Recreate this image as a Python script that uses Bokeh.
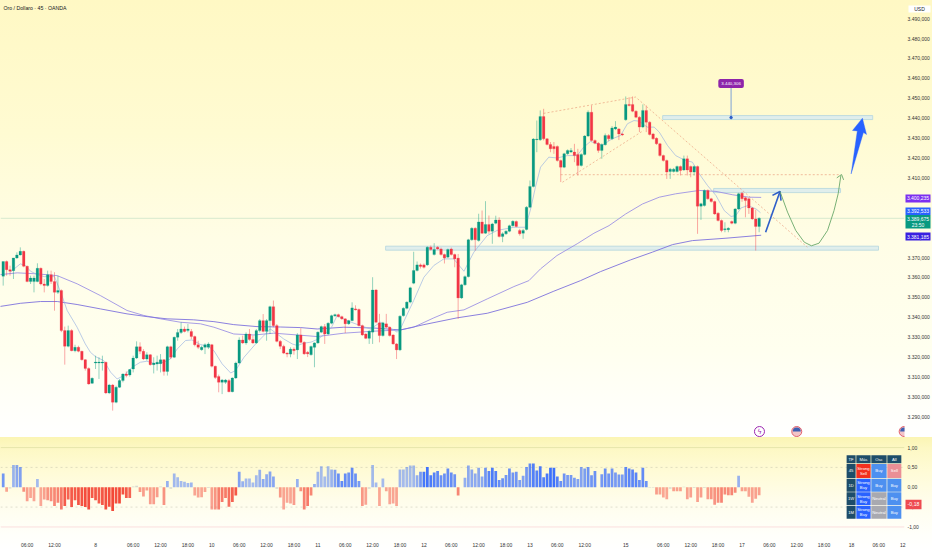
from bokeh.plotting import figure
from bokeh.layouts import column
from bokeh.models import Range1d, FixedTicker, Label, ColumnDataSource
from bokeh.core.properties import value
from bokeh.embed import file_html
from bokeh.resources import INLINE
import numpy as np

opens = [3360.6,3368.0,3363.9,3363.4,3369.8,3371.3,3373.1,3365.6,3357.9,3357.9,3357.9,3364.6,3356.7,3355.9,3361.4,3357.9,3352.5,3353.4,3333.3,3325.4,
3333.3,3323.2,3324.9,3322.9,3318.7,3314.3,3306.8,3317.0,3317.0,3317.0,3317.4,3302.0,3306.0,3297.3,3304.8,3308.2,3311.5,3311.0,3314.0,3319.5,
3325.2,3322.9,3319.0,3321.2,3316.2,3316.5,3316.7,3318.7,3312.8,3325.2,3319.9,3329.9,3332.4,3334.1,3333.3,3332.9,3330.3,3326.2,3323.7,3324.9,
3324.9,3326.2,3315.4,3310.3,3307.3,3307.3,3308.2,3302.6,3309.5,3317.0,3328.6,3327.1,3331.6,3328.8,3327.1,3333.3,3338.3,3332.9,3338.3,3345.3,
3335.8,3327.9,3325.4,3322.0,3321.5,3324.0,3323.6,3331.1,3327.4,3322.4,3321.2,3324.9,3327.1,3332.5,3335.3,3331.6,3337.0,3340.7,3341.3,3340.3,
3339.2,3336.7,3338.3,3344.2,3343.9,3335.8,3331.6,3329.4,3332.5,3353.7,3337.2,3330.8,3336.7,3335.0,3331.1,3326.6,3323.6,3340.8,3344.5,3347.6,
3357.1,3363.5,3366.3,3366.3,3366.3,3375.2,3371.5,3375.2,3374.3,3371.5,3370.2,3374.3,3371.5,3369.7,3349.7,3356.3,3360.4,3378.9,3384.7,3378.5,
3387.9,3382.2,3386.6,3383.2,3387.2,3388.9,3380.5,3381.9,3383.2,3386.0,3388.1,3383.6,3382.2,3384.1,3395.3,3405.7,3429.2,3429.1,3440.8,3429.6,
3426.8,3425.8,3425.8,3418.7,3415.4,3422.1,3423.0,3423.0,3421.8,3416.2,3421.8,3431.0,3443.0,3428.8,3427.4,3423.8,3426.7,3431.3,3429.6,3434.6,
3434.6,3432.1,3439.2,3446.9,3446.9,3443.5,3440.5,3435.5,3443.9,3438.0,3432.1,3429.9,3427.1,3421.2,3418.7,3413.2,3413.2,3413.2,3415.7,3414.0,
3419.6,3415.7,3412.9,3415.7,3395.8,3396.1,3403.7,3399.5,3398.1,3392.3,3388.6,3384.0,3384.0,3388.1,3387.2,3394.4,3402.3,3400.0,3399.5,3394.9,
3389.4,3385.6]
highs = [3368.0,3368.5,3365.9,3369.8,3372.6,3375.1,3373.5,3366.0,3360.9,3360.9,3367.1,3365.0,3359.2,3363.4,3363.4,3362.6,3360.9,3354.0,3335.3,3335.8,
3334.0,3326.2,3325.7,3323.2,3319.0,3314.8,3309.8,3320.7,3319.9,3320.7,3317.7,3306.5,3306.5,3305.6,3309.0,3311.8,3312.8,3314.0,3320.7,3327.9,
3327.4,3324.0,3322.4,3321.5,3319.9,3320.7,3321.5,3319.0,3325.7,3325.7,3330.3,3334.1,3337.5,3335.3,3336.6,3334.1,3330.8,3328.2,3325.7,3326.9,
3327.4,3326.6,3315.7,3311.2,3309.0,3309.0,3309.0,3309.8,3317.7,3329.9,3330.8,3332.4,3334.1,3330.8,3334.1,3339.1,3341.6,3339.1,3345.8,3348.4,
3336.6,3328.6,3326.2,3322.4,3324.9,3324.9,3332.0,3334.5,3327.9,3323.0,3325.8,3327.4,3332.9,3335.8,3336.6,3337.5,3341.3,3341.8,3341.8,3340.8,
3339.6,3338.7,3347.5,3346.0,3344.4,3336.3,3332.0,3333.5,3360.1,3354.2,3341.7,3337.7,3341.7,3335.4,3331.5,3327.0,3341.0,3345.0,3348.0,3355.3,
3372.9,3368.0,3367.0,3367.0,3375.6,3376.0,3377.2,3375.7,3375.0,3372.0,3374.5,3375.0,3372.0,3371.8,3356.8,3361.0,3379.4,3385.2,3385.2,3392.0,
3393.6,3398.3,3391.1,3387.4,3391.0,3390.2,3382.7,3383.7,3386.5,3388.7,3388.6,3384.4,3384.4,3395.8,3408.7,3430.0,3438.8,3443.9,3444.7,3430.0,
3428.0,3428.0,3426.3,3419.2,3422.6,3424.3,3425.0,3427.1,3424.6,3422.3,3431.5,3443.9,3446.4,3429.3,3428.0,3427.3,3432.3,3432.0,3436.0,3438.5,
3435.0,3432.6,3450.9,3450.5,3450.9,3444.0,3441.0,3446.9,3446.4,3438.5,3432.6,3430.4,3427.6,3421.7,3419.2,3415.0,3415.0,3416.2,3416.2,3421.2,
3421.2,3416.2,3416.2,3416.2,3397.5,3404.2,3404.2,3400.0,3398.6,3392.8,3389.1,3387.7,3385.2,3388.6,3394.9,3402.5,3403.0,3400.5,3400.0,3395.4,
3394.0,3390.2]
lows = [3355.9,3360.9,3360.9,3359.2,3369.3,3371.0,3365.1,3357.6,3356.7,3352.5,3357.6,3356.0,3352.5,3355.4,3356.7,3343.3,3351.7,3332.5,3316.2,3324.9,
3322.9,3322.4,3322.4,3318.2,3313.2,3306.1,3306.5,3314.0,3309.0,3313.2,3301.4,3301.4,3293.1,3296.8,3304.5,3307.3,3309.8,3310.2,3312.3,3319.0,
3321.5,3318.5,3318.2,3315.7,3311.8,3313.2,3312.3,3310.7,3310.7,3319.0,3319.5,3328.2,3331.6,3332.4,3332.4,3329.0,3325.4,3324.0,3323.2,3321.5,
3324.0,3314.8,3309.0,3302.3,3301.4,3306.5,3302.3,3302.3,3309.0,3316.5,3326.6,3326.2,3328.2,3326.6,3326.6,3332.4,3332.4,3328.2,3331.6,3335.0,
3327.4,3324.0,3321.5,3319.9,3319.9,3321.2,3319.0,3326.9,3321.1,3320.0,3320.7,3314.9,3326.6,3332.0,3326.6,3331.0,3336.5,3340.2,3339.9,3338.7,
3332.1,3336.2,3338.0,3343.4,3335.4,3330.6,3329.0,3326.6,3326.6,3337.0,3327.4,3330.3,3334.5,3330.3,3326.2,3319.0,3323.0,3340.3,3344.0,3347.0,
3356.6,3363.0,3364.5,3364.5,3365.8,3373.5,3371.0,3373.9,3371.0,3367.0,3369.7,3371.0,3365.1,3339.2,3349.2,3355.8,3360.0,3378.4,3373.5,3378.0,
3381.8,3381.9,3381.9,3376.9,3386.7,3380.1,3377.7,3381.4,3382.7,3385.5,3385.2,3381.0,3379.4,3383.6,3394.8,3405.2,3422.9,3428.6,3428.8,3426.3,
3422.9,3422.1,3418.2,3407.9,3414.9,3421.6,3422.5,3417.9,3411.2,3415.7,3421.3,3430.5,3428.3,3426.9,3422.6,3419.6,3426.2,3428.5,3429.0,3434.0,
3429.0,3431.0,3438.7,3445.9,3443.0,3440.0,3433.0,3435.0,3433.0,3431.3,3429.1,3426.6,3420.7,3418.2,3409.5,3409.5,3412.7,3412.7,3411.2,3413.5,
3411.2,3410.3,3411.2,3381.9,3388.9,3395.6,3399.0,3397.6,3391.4,3388.1,3382.7,3382.7,3382.7,3386.7,3386.7,3393.9,3398.0,3390.2,3391.9,3388.9,
3373.5,3382.7]
closes = [3368.0,3363.9,3363.1,3369.8,3371.3,3373.1,3365.6,3357.9,3359.7,3359.7,3364.6,3356.7,3355.9,3361.4,3357.9,3352.5,3353.4,3333.3,3325.4,3333.3,
3323.2,3324.9,3322.9,3318.7,3314.3,3306.5,3309.3,3317.5,3317.5,3317.5,3302.0,3306.0,3297.3,3304.8,3308.2,3311.5,3310.7,3313.7,3319.5,3325.2,
3322.9,3319.0,3321.2,3316.2,3317.0,3317.4,3318.7,3312.8,3325.2,3319.9,3329.9,3332.4,3334.1,3332.9,3334.1,3330.3,3326.2,3324.9,3324.9,3326.2,
3326.6,3315.4,3309.8,3307.3,3308.5,3308.5,3302.6,3309.5,3317.0,3328.6,3327.1,3331.6,3328.8,3327.1,3333.3,3338.3,3332.9,3338.3,3345.3,3335.8,
3327.9,3325.4,3322.0,3321.5,3324.0,3323.2,3331.1,3327.4,3321.6,3321.6,3325.3,3327.1,3332.5,3335.3,3331.6,3337.0,3340.8,3341.3,3340.3,3339.2,
3336.7,3338.3,3344.7,3343.7,3335.8,3331.1,3329.4,3333.0,3353.7,3337.5,3330.8,3337.2,3335.0,3330.8,3326.6,3323.6,3340.5,3344.5,3347.6,3354.8,
3363.5,3366.3,3365.5,3365.1,3375.2,3374.0,3374.0,3374.3,3371.5,3369.8,3374.0,3371.5,3369.3,3349.7,3356.3,3360.4,3378.9,3384.7,3378.9,3387.9,
3382.2,3386.6,3383.2,3386.9,3388.9,3380.5,3381.9,3383.2,3386.0,3388.2,3385.6,3381.9,3383.6,3395.3,3405.7,3429.5,3429.5,3440.8,3429.6,3426.8,
3424.6,3424.6,3418.7,3415.4,3422.1,3423.8,3423.8,3421.2,3416.2,3421.8,3431.0,3443.0,3428.8,3427.4,3423.8,3426.8,3431.3,3429.6,3435.1,3435.5,
3432.1,3431.6,3446.9,3446.4,3443.5,3440.5,3435.5,3443.9,3438.0,3431.8,3429.6,3427.1,3421.2,3418.7,3412.9,3414.4,3414.4,3415.7,3413.7,3419.6,
3414.0,3412.9,3415.7,3395.8,3397.0,3403.7,3399.5,3398.1,3391.9,3388.6,3383.6,3384.4,3384.7,3387.2,3394.4,3402.0,3399.5,3398.6,3394.9,3389.4,
3385.6,3389.7]
osc_values = [.35,-.11,-.03,.56,.56,.51,-.11,-.35,-.27,-.35,.21,-.47,-.31,-.33,-.35,-.47,-.39,-.56,-.47,-.31,
-.5,-.33,-.45,-.47,-.5,-.56,-.27,-.33,-.41,-.45,-.56,-.49,-.6,-.41,-.41,-.18,-.27,-.27,.02,.04,
-.12,-.23,-.08,-.43,-.43,-.25,.02,-.45,.16,-.04,.35,.25,.16,.14,.11,.12,-.21,-.26,-.25,-.12,
-.02,-.56,-.56,-.56,-.37,-.27,-.49,-.37,-.21,.39,.15,.22,.22,.12,.3,.44,.21,.33,.4,.27,
-.04,-.26,-.56,-.39,-.41,-.45,.21,-.1,-.56,-.47,-.21,.08,.39,.53,.27,.53,.45,.44,.35,.16,
.35,.37,.49,.35,.16,-.47,-.44,-.04,.56,.12,-.47,.22,-.1,-.43,-.41,-.47,.45,.45,.51,.55,
.55,.3,.39,.39,.51,.3,.37,.41,.3,.35,.47,.37,.33,-.21,0,.24,.55,.45,.35,.49,
.27,.49,.41,.49,.41,.18,.23,.31,.47,.37,.39,.18,.29,.51,.6,.6,.42,.53,.25,.35,
.49,.49,.27,.16,.35,.31,.31,.24,.21,.51,.47,.51,.3,.41,0,.33,.47,.35,.47,.37,
.32,.32,.51,.47,.45,.37,.18,.49,.16,-.01,-.01,-.18,-.18,-.26,-.3,-.04,-.1,-.1,-.1,.01,
-.3,-.26,-.02,-.37,-.26,-.02,-.3,-.3,-.44,-.39,-.39,-.18,-.2,-.2,-.14,.29,-.1,-.1,-.24,-.39,
-.29,-.2]

fast_x = [2,5,6.5,8,10,12,15,17,18.7,21.6,24,25.5,27,29.4,31.4,33.3,35.3,37.7,40.1,42,44.5,47,48.9,50.9,53.3,55.2,57.7,60.1,61.6,64,66.5,67.9,70.4,73.8,76.2,78.1,80.1,82,84.5,86,88,90,92,94,96,97.6,100.5,104.4,107.4,110.3,115.2,116.1,120,123,125.9,128.8,131.7,134.7,137.6,141.5,144.4,149.3,152.7,154.2,155.6,157.1,159.5,162,164.9,167.8,169.7,171.7,175.1,178,180.5,182.5,184.4,185.9,188.3,190.3,191.8,194.2,196.6,199.1,201.5,203.5,205.9,208.4,210.8,212.8,214.2,215.7,217.7,220.1,221.4]
fast_y = [3362.6,3366.8,3366,3363.1,3361.4,3360.4,3360.4,3351.7,3343.4,3335,3326.6,3322.4,3320.2,3318.2,3312.4,3309,3310.7,3314.9,3317.4,3317.9,3316.6,3317.4,3319.1,3324.1,3328.3,3328.6,3326.3,3325.3,3323.2,3316.6,3312,3313.2,3319.9,3326.6,3330.8,3334.1,3331.6,3329.1,3326.6,3325.8,3327,3327.5,3329,3331.5,3335,3340.8,3338.3,3335.8,3334.1,3337.5,3332.5,3334.1,3348.4,3360.1,3366,3369.3,3369.3,3363.1,3372.7,3381,3383.6,3385.2,3385.2,3394.4,3405.3,3415.4,3420.4,3420,3421.2,3421.2,3425.4,3428.3,3426.3,3429.6,3431.3,3437.2,3438.8,3438.5,3435.5,3435.5,3433,3426.3,3421.2,3419,3417.9,3412,3406.2,3401.1,3393.6,3390.6,3391.1,3394.9,3396.1,3394.4,3392.5]
ma_a_x = [-1,4.1,9.9,15.8,21.6,28.4,36.2,41.1,46,51.8,57.7,61.6,67.4,73.3,79.1,86,91.8,99.6,108.3,116.1,120,125.9,129.8,134.7,141.5,149.3,153.7,157.1,161.9,167.8,172.7,177.1,182,186.9,191.8,196.6,203.5,208.4,213.3,218.1,221.6]
ma_a_y = [3361.4,3362.3,3361.8,3360.9,3356.8,3350.9,3343.4,3340.9,3339.2,3337.5,3336.7,3335,3331.6,3331.1,3332,3331.1,3330.3,3332,3333,3333.6,3335,3339.7,3342.5,3343.7,3349.2,3355.4,3358.4,3364.3,3371,3376.9,3382.2,3386,3391.9,3396.9,3400.3,3402,3403.7,3403.2,3401.5,3400.3,3400.2]
ma_b_x = [-1,5,10.9,15.8,21.6,28.4,36.2,42.1,47.9,55.7,61.6,67.4,74.2,81,87,91.8,99.6,108.3,116.1,123,132.7,141.5,153.2,161,168.8,174.6,183.4,189.8,195.7,201.5,211.3,221.6]
ma_b_y = [3345.4,3347,3347.9,3347.9,3346.4,3344.2,3341.7,3340.3,3339.2,3338.7,3337.8,3336.3,3335.3,3335.1,3334.8,3334.1,3335,3334.6,3333.6,3336.3,3339.7,3342,3347.5,3353.1,3358.4,3362.9,3368.8,3372.7,3376.5,3378.5,3379.7,3381.2]

price_ticks = list(range(3290, 3500, 10))
osc_ticks = [1.0, 0.5, 0.0, -0.5, -1.0]
osc_tick_labels = ["1,00", "0,50", "0,00", "-0,50", "-1,00"]
time_ticks = [7,15,27,38,46,54,61,69,77,85,92,100,108,116,123,131,139,147,154,162,170,182,193,201,209,216,224,232,240,248,256,263]
time_labels = ["06:00","12:00","8","06:00","12:00","18:00","10","06:00","12:00","18:00","11","06:00","12:00","18:00","12","06:00","12:00","18:00","13","06:00","12:00","15","06:00","12:00","18:00","17","06:00","12:00","18:00","18","06:00","12"]
table_head = ["TF", "Más", "Osc", "All"]
table_rows = [["45", "Strong\nSell", "Buy", "Sell"], ["1D", "Strong\nBuy", "Buy", "Buy"],
              ["1W", "Strong\nBuy", "Neutral", "Buy"], ["1M", "Strong\nBuy", "Neutral", "Buy"]]

UP, DOWN = "#089981", "#f23645"
FONT = "Liberation Sans"
TICK = "5px"
xr = (-0.79, 263.5)
price_range = Range1d(3279.6, 3499.1)
osc_range = Range1d(-1.165, 1.254)

def style_axis(ax, standoff):
    ax.axis_line_color = None
    ax.major_tick_line_color = None
    ax.minor_tick_line_color = None
    ax.major_tick_out = 0
    ax.major_tick_in = 0
    ax.minor_tick_out = 0
    ax.minor_tick_in = 0
    ax.major_label_standoff = standoff
    ax.major_label_text_font_size = TICK
    ax.major_label_text_font = FONT
    ax.major_label_text_color = "#333333"

p = figure(width=932, height=437, output_backend="svg", toolbar_location=None,
           x_range=Range1d(*xr), y_range=price_range,
           x_axis_location=None, y_axis_location="right",
           min_border=0, min_border_right=28, min_border_left=0, min_border_top=0, min_border_bottom=0,
           background_fill_color=None, border_fill_color=None, outline_line_color=None)
p.styles = {"background": "linear-gradient(180deg,#fff8c4 0%,#fffbd2 30%,#fffde6 55%,#ffffef 80%,#ffffff 100%)"}
p.grid.visible = False
ya = p.yaxis[0]
ya.ticker = FixedTicker(ticks=price_ticks)
ya.major_label_overrides = {t: f"3.{t-3000},000" for t in price_ticks}
style_axis(ya, 3)

# current price line
p.line(xr, [closes[-1]] * 2, color="#8cc7a8", alpha=0.4, line_width=0.9)

# zones
def zone(x0, x1, y0, y1):
    p.quad(left=x0, right=x1, bottom=y0, top=y1, fill_color="#e0eeec", line_color="#b4d6de", line_width=0.8)
zone(192.8, 254.2, 3439.3, 3441.3)
zone(207.7, 244.8, 3402.6, 3404.7)
zone(111.8, 255.9, 3373.7, 3375.7)

# dashed pattern lines
dash = dict(color="#e89878", line_width=0.7, line_dash="2 2", alpha=0.9)
p.line([158, 184.9, 235.1], [3442.4, 3450.6, 3375.2], **dash)
p.line([163.5, 187.2], [3407.8, 3433.8], **dash)
p.line([163, 244.8], [3411.6, 3411.6], **dash)

# moving averages
p.line(ma_a_x, ma_a_y, color="#9d92e4", line_width=0.9)
p.line(ma_b_x, ma_b_y, color="#7e72dc", line_width=0.9)
p.line(fast_x, fast_y, color="#9db6e2", line_width=0.7)

# candles
idx = np.arange(len(opens))
o, h, l, c = map(np.array, (opens, highs, lows, closes))
col = [UP if a >= b else DOWN for a, b in zip(c, o)]
src = ColumnDataSource(dict(x=idx, o=o, h=h, l=l, c=c, col=col))
p.segment("x", "h", "x", "l", source=src, color="col", line_width=0.8, alpha=0.55)
p.vbar("x", 0.76, "o", "c", source=src, fill_color="col", line_color="col", line_width=0.2)

# measuring callout
p.line([212.8, 212.8], [3441, 3457], color="#7fa3d6", line_width=1)
p.scatter([212.8], [3440.3], size=2.5, color="#2f5fc8")
p.add_layout(Label(x=212.8, y=3457.4, text="3.440,306", text_align="center", text_baseline="middle",
                   text_color="white", text_font_size="4.4px", text_font=FONT,
                   background_fill_color="#8e24aa", padding=3, border_radius=2))

# projected path
p.line([222.9, 227.1], [3382.7, 3403.2], color="#2f5fc8", line_width=1.6)
p.line([224.9, 227.1, 227.4], [3401.2, 3403.2, 3398.6], color="#2f5fc8", line_width=1.6)
p.line([227.1,229.3,231.7,234.2,236.3,238.5,241,242.9,244.1,244.9],
       [3403.2,3392.8,3383.6,3377.7,3375.9,3377.2,3383.6,3393.6,3402,3411.2], color="#6aa86a", line_width=0.9)
p.line([243.7, 245.1, 245.7], [3410, 3411.7, 3409], color="#6aa86a", line_width=0.9)
p.patch([247.9, 249.7, 248.3, 251.2, 252.4, 251.5], [3412, 3433.6, 3433.8, 3440, 3431.8, 3432.8],
        fill_color="#2962ff", line_color="#2962ff", line_width=0.4)

# event icons
iy = 3282.6
p.scatter([221.1], [iy], size=10, fill_color="white", line_color="#9c27b0", line_width=1)
p.text([221.1], [iy], text=["ϟ"], text_color="#9c27b0", text_font_size="7px", text_align="center",
       text_baseline="middle", text_font=value("DejaVu Sans"))
p.scatter([232, 263.4], [iy, iy], size=10, fill_color="#f3c4c8", line_color="#e0606c", line_width=1)
p.wedge([232, 263.4], [iy, iy], radius=4, radius_units="screen", start_angle=0, end_angle=np.pi,
        fill_color="#3f5fb0", line_color=None)

p.add_layout(Label(x=3, y=429.5, x_units="screen", y_units="screen", text="Oro / Dollaro · 45 · OANDA",
                   text_font=FONT, text_font_size="5.2px", text_baseline="middle", text_color="#131722"))

# oscillator pane
q = figure(width=932, height=113, output_backend="svg", toolbar_location=None,
           x_range=Range1d(*xr), y_range=osc_range,
           y_axis_location="right",
           min_border=0, min_border_right=28, min_border_left=0, min_border_top=0, min_border_bottom=15,
           background_fill_color=None, border_fill_color=None, outline_line_color=None)
q.styles = {"background": "linear-gradient(180deg,#fbf5b4 0%,#fdf8c4 10%,#fffbd6 30%,#fffdea 55%,#fffffa 85%,#ffffff 100%)"}
q.grid.visible = False
qy = q.yaxis[0]
qy.ticker = FixedTicker(ticks=osc_ticks)
qy.major_label_overrides = dict(zip(osc_ticks, osc_tick_labels))
style_axis(qy, 3)
qx = q.xaxis[0]
qx.ticker = FixedTicker(ticks=time_ticks)
qx.major_label_overrides = dict(zip(time_ticks, time_labels))
style_axis(qx, 8)

q.line(xr, [1, 1], color="#e4e4a8", line_width=0.9)
q.line(xr, [-1, -1], color="#fadada", line_width=0.9)
q.line(xr, [0.5, 0.5], color="#b8b8a0", line_width=0.6, line_dash="2 3", alpha=0.7)
q.line(xr, [-0.5, -0.5], color="#b8b8a0", line_width=0.6, line_dash="2 3", alpha=0.7)

v = np.array(osc_values)
smooth = np.array([v[max(0, k - 7):k + 1].mean() for k in range(len(v))])
alpha = 0.42 + 0.58 * np.clip(np.abs(smooth) / 0.5, 0, 1) ** 2.5
bar_col = ["#b2b5be" if abs(a) < 0.06 else ("#2962ff" if a > 0 else "#f23020") for a in v]
bar_alpha = [0.5 if abs(a) < 0.06 else float(b) for a, b in zip(v, alpha)]
osrc = ColumnDataSource(dict(x=idx, v=v, col=bar_col, a=bar_alpha))
q.vbar("x", 0.8, 0, "v", source=osrc, fill_color="col", fill_alpha="a", line_color=None)

# table
def tx(px):
    return (px - 2.7) / 3.42
def ty(py):
    return (487.8 - py) / 40.5

col_edges = [(846, 855), (855.7, 870), (870.7, 886), (886.7, 900.7)]
row_edges = [(455, 463.3), (464, 478.3), (479, 492.3), (493, 506), (506.7, 520)]
HEAD = "#1e4d69"
cell_col = {"Strong\nSell": "#f2301f", "Strong\nBuy": "#2962ff", "Buy": "#4d90f0", "Sell": "#ea8f96", "Neutral": "#a8a9b0"}
lefts, rights, tops, bots, fills, xs, ys, txts = [], [], [], [], [], [], [], []
grid = [table_head] + table_rows
for r, row in enumerate(grid):
    for k, cell in enumerate(row):
        (x0, x1), (y0, y1) = col_edges[k], row_edges[r]
        lefts.append(tx(x0)); rights.append(tx(x1)); tops.append(ty(y0)); bots.append(ty(y1))
        fills.append(HEAD if (r == 0 or k == 0) else cell_col[cell])
        xs.append(tx((x0 + x1) / 2)); ys.append(ty((y0 + y1) / 2)); txts.append(cell)
q.quad(left=lefts, right=rights, top=tops, bottom=bots, fill_color=fills, line_color=None)
q.text(xs, ys, text=txts, text_color="white", text_font_size="4.2px", text_align="center",
       text_baseline="middle", text_font=value(FONT), text_line_height=1.0)

# transparent strips laid over the price scales, for the tags that sit on the scale
def strip(top, height, y_range):
    s = figure(frame_width=28, frame_height=height, output_backend="svg", toolbar_location=None,
               x_range=Range1d(904, 932), y_range=y_range, x_axis_location=None, y_axis_location=None,
               min_border=0, min_border_left=0, min_border_right=0, min_border_top=0, min_border_bottom=0,
               background_fill_color=None, border_fill_color=None, outline_line_color=None)
    s.grid.visible = False
    s.styles = {"position": "absolute", "left": "904px", "top": f"{top}px", "width": "28px", "height": f"{height}px"}
    return s

def py(y):
    return 3440 + (117.7 - y) / 1.99

sp = strip(0, 437, price_range)
tag_top = [194, 207, 214.5, 232]
tag_bot = [202, 214.5, 228, 240]
tag_col = ["#7c2ff0", "#2962ff", "#089981", "#3a1fe0"]
sp.quad(left=905, right=930, top=[py(a) for a in tag_top], bottom=[py(a) for a in tag_bot],
        fill_color=tag_col, line_color=None)
sp.quad(left=[908], right=[930], top=[py(5)], bottom=[py(12)], fill_color="white", line_color=None)
tag_texts = ["3.400,235", "3.392,533", "3.389,675", "23:50", "3.381,185"]
tag_y = [198, 210.8, 218, 224, 236]
sp.text([917.5] * 5, [py(a) for a in tag_y], text=tag_texts, text_color="white", text_font_size="5px",
        text_align="center", text_baseline="middle", text_font=value(FONT))
sp.text([919], [py(8.5)], text=["USD"], text_color="#131722", text_font_size="5px", text_align="center",
        text_baseline="middle", text_font=value(FONT))

so = strip(437, 113, osc_range)
so.quad(left=[905], right=[921], top=[-0.08], bottom=[-0.28], fill_color="#ee4b50", line_color=None)
so.text([913], [-0.18], text=["-0,18"], text_color="white", text_font_size="5.2px", text_align="center",
        text_baseline="middle", text_font=value(FONT))

root = column(p, q, sp, so, spacing=0, styles={"position": "absolute", "left": "0", "top": "0"})
open("out.html", "w").write(file_html(root, INLINE))
